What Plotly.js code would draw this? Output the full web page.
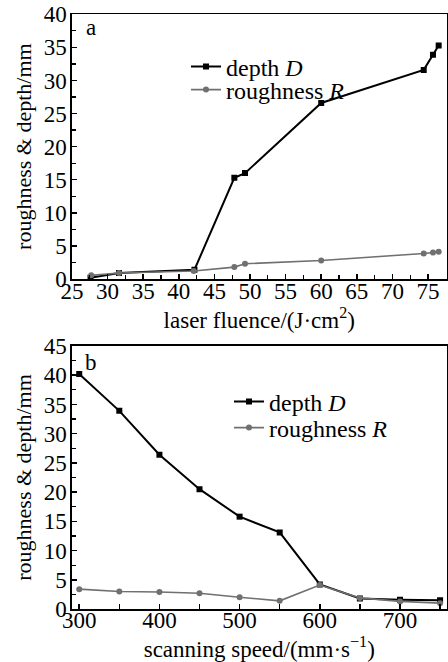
<!DOCTYPE html>
<html>
<head>
<meta charset="utf-8">
<script src="https://cdn.plot.ly/plotly-3.0.1.min.js"></script>
<style>html,body{margin:0;padding:0;background:#fff;}#chart{width:448px;height:662px;}</style>
</head>
<body>
<div id="chart"></div>
<script>
// Panel a: laser fluence
const fluenceD = [27.6, 31.6, 42.2, 47.8, 49.3, 60.0, 74.4, 75.7, 76.5];
const depthA   = [0.2, 0.9, 1.4, 15.3, 16.0, 26.6, 31.6, 33.9, 35.3];
const fluenceR = [27.7, 31.6, 42.1, 47.8, 49.3, 60.0, 74.4, 75.7, 76.5];
const roughA   = [0.55, 0.9, 1.2, 1.8, 2.3, 2.8, 3.85, 4.0, 4.1];

// Panel b: scanning speed
const speed  = [300, 350, 400, 450, 500, 550, 600, 650, 700, 750];
const depthB = [40.2, 33.9, 26.4, 20.5, 15.8, 13.1, 4.2, 1.8, 1.6, 1.5];
const roughB = [3.4, 3.0, 2.9, 2.7, 2.0, 1.4, 4.1, 1.9, 1.3, 1.0];

const names = ['depth <i>D</i>', 'roughness <i>R</i>'];
const FONT = '"Liberation Serif", "Times New Roman", serif';
const dStyle = {line:{color:'#000', width:2}, marker:{symbol:'square', size:6, color:'#000'}};
const rStyle = {line:{color:'#707070', width:1.6}, marker:{symbol:'circle', size:6, color:'#707070'}};

const traces = [
  Object.assign({x:fluenceD, y:depthA, name:names[0], mode:'lines+markers', xaxis:'x', yaxis:'y', legend:'legend'}, dStyle),
  Object.assign({x:fluenceR, y:roughA, name:names[1], mode:'lines+markers', xaxis:'x', yaxis:'y', legend:'legend2'}, rStyle),
  Object.assign({x:speed, y:depthB, name:names[0], mode:'lines+markers', xaxis:'x2', yaxis:'y2', legend:'legend3'}, dStyle),
  Object.assign({x:speed, y:roughB, name:names[1], mode:'lines+markers', xaxis:'x2', yaxis:'y2', legend:'legend4'}, rStyle)
];

const W = 448, H = 662;
const xdom = [72/W, 446.5/W];
const TICK = 23, TITLE = 22, LEG = 24;
function minor(d, len){ return {ticks:'inside', ticklen:len||4, tickwidth:1.3, tickcolor:'#000', dtick:d}; }
function ax(extra){
  return Object.assign({
    showgrid:false, zeroline:false, showline:true, linecolor:'#000', linewidth:1.6, mirror:true,
    ticks:'inside', ticklen:5, tickwidth:1.5, tickcolor:'#000',
    tickfont:{family:FONT, size:TICK, color:'#000'}
  }, extra);
}
function leg(xpx, ypx){
  return {x:xpx/W, y:(H-ypx)/H, xanchor:'left', yanchor:'middle', bgcolor:'rgba(0,0,0,0)', borderwidth:0,
    font:{family:FONT, size:LEG, color:'#000'}, tracegroupgap:0};
}

const layout = {
  width:W, height:H,
  margin:{l:0, r:0, t:0, b:0},
  paper_bgcolor:'#fff', plot_bgcolor:'#fff',
  font:{family:FONT, color:'#000', size:TICK},
  xaxis: ax({domain:xdom, anchor:'y', range:[25, 77.6], dtick:5, tick0:25, minor:minor(2.5), ticklabelstandoff:-9,
    title:{text:'laser fluence/(J·cm<sup>2</sup>)', font:{family:FONT, size:TICK}, standoff:0}}),
  yaxis: ax({domain:[(H-279)/H, (H-14.3)/H], anchor:'x', range:[0, 40], dtick:5, minor:minor(2.5), ticklabelstandoff:-1,
    title:{text:'roughness &amp; depth/mm', font:{family:FONT, size:TITLE}, standoff:6}}),
  xaxis2: ax({domain:xdom, anchor:'y2', range:[291, 758], dtick:100, tick0:300, minor:minor(50, 5), ticklabelstandoff:-10,
    title:{text:'scanning speed/(mm·s<sup>−1</sup>)', font:{family:FONT, size:TICK}, standoff:0}}),
  yaxis2: ax({domain:[(H-609)/H, (H-346)/H], anchor:'x2', range:[0, 45], dtick:5, minor:minor(2.5), ticklabelstandoff:-1,
    title:{text:'roughness &amp; depth/mm', font:{family:FONT, size:TITLE}, standoff:6}}),
  legend: leg(186, 67),
  legend2: leg(186, 90),
  legend3: leg(229, 402),
  legend4: leg(229, 428),
  annotations:[
    {text:'a', x:91/W, y:(H-27)/H, xref:'paper', yref:'paper', xanchor:'center', yanchor:'middle', showarrow:false, font:{family:FONT, size:TICK, color:'#000'}},
    {text:'b', x:91/W, y:(H-362)/H, xref:'paper', yref:'paper', xanchor:'center', yanchor:'middle', showarrow:false, font:{family:FONT, size:TICK, color:'#000'}}
  ],
  showlegend:true
};

Plotly.newPlot('chart', traces, layout, {staticPlot:true, displayModeBar:false});
</script>
</body>
</html>
